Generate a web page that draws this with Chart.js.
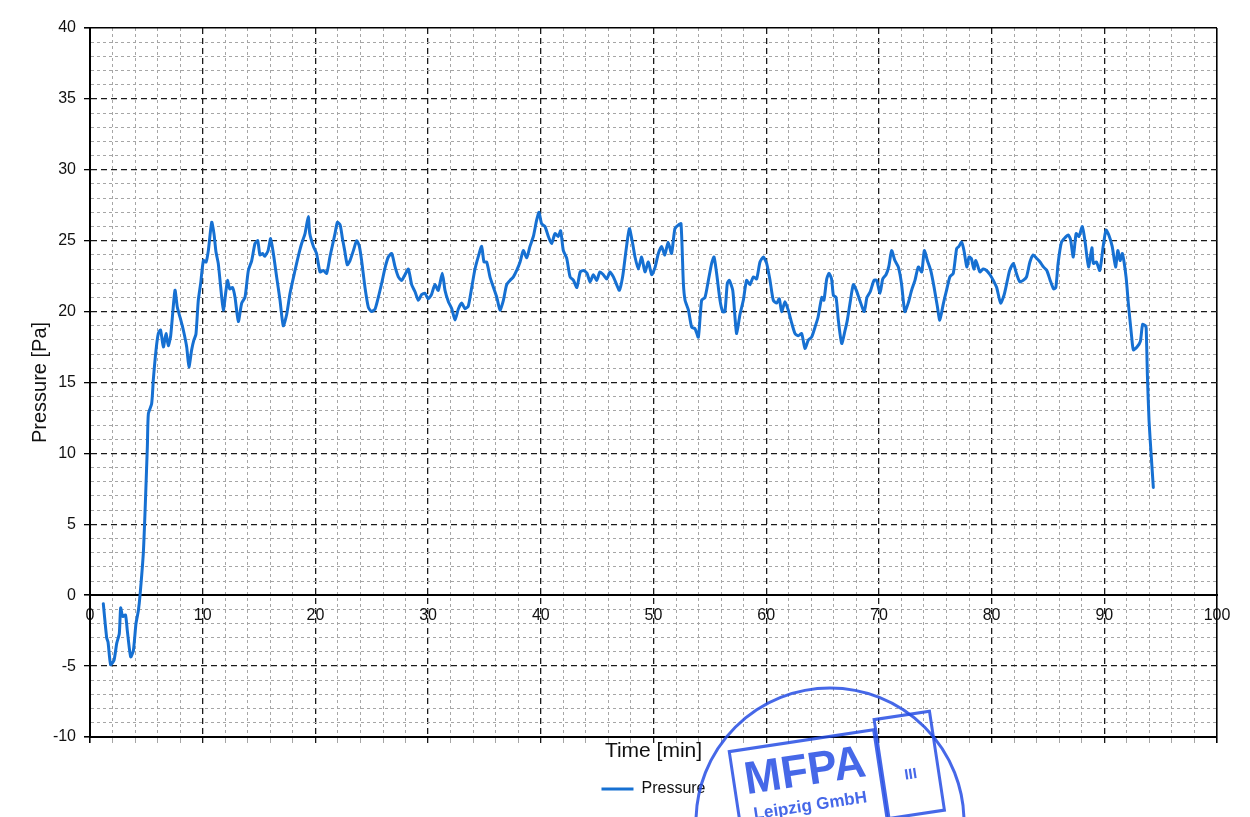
<!DOCTYPE html>
<html>
<head>
<meta charset="utf-8">
<title>Pressure [Pa]</title>
<script src="https://cdn.jsdelivr.net/npm/chart.js@4.4.1/dist/chart.umd.min.js"></script>
<style>
	html, body { margin: 0; padding: 0; background: #fff; }
	#wrap { width: 1250px; height: 817px; position: relative; }
</style>
</head>
<body>
<div id="wrap"><canvas id="chart" width="1250" height="817"></canvas></div>
<script>
	/* Data. */

	var TIME = [
		1.18, 1.48, 1.6, 1.83, 2.13, 2.37, 2.6, 2.72, 2.9, 3.15, 3.31, 3.61, 3.85, 4.08, 4.29, 4.44,
		4.73, 4.88, 5.09, 5.18, 5.47, 5.62, 5.86, 6.06, 6.26, 6.51, 6.74, 6.95, 7.16, 7.54, 7.75, 7.99,
		8.28, 8.58, 8.78, 9.02, 9.22, 9.4, 9.61, 9.82, 10.06, 10.3, 10.5, 10.8, 11.0, 11.18, 11.38, 11.6,
		11.83, 12.07, 12.2, 12.4, 12.65, 12.87, 13.16, 13.46, 13.75, 14.05, 14.35, 14.64, 14.88, 15.08,
		15.32, 15.5, 15.8, 16.03, 16.27, 16.56, 16.86, 17.15, 17.45, 17.75, 18.19, 18.48, 18.78, 19.08,
		19.37, 19.5, 19.82, 20.1, 20.41, 20.7, 21.0, 21.3, 21.74, 21.95, 22.2, 22.4, 22.6, 22.83, 23.07,
		23.37, 23.66, 23.9, 24.1, 24.4, 24.7, 24.99, 25.3, 25.58, 25.88, 26.2, 26.47, 26.77, 27.07, 27.36,
		27.65, 27.95, 28.25, 28.54, 28.84, 29.13, 29.43, 29.72, 30.0, 30.3, 30.6, 30.9, 31.26, 31.5, 31.8,
		32.1, 32.39, 32.69, 32.98, 33.28, 33.57, 33.87, 34.16, 34.46, 34.75, 34.96, 35.2, 35.49, 35.8,
		36.1, 36.38, 36.68, 36.97, 37.27, 37.57, 37.86, 38.16, 38.45, 38.75, 39.04, 39.34, 39.63, 39.84,
		40.07, 40.37, 40.67, 40.96, 41.26, 41.55, 41.76, 42.0, 42.3, 42.6, 42.9, 43.2, 43.5, 43.8, 44.1,
		44.37, 44.66, 44.96, 45.25, 45.55, 45.85, 46.14, 46.44, 46.73, 46.97, 47.26, 47.56, 47.86, 48.15,
		48.36, 48.65, 48.95, 49.24, 49.54, 49.84, 50.13, 50.43, 50.72, 51.0, 51.3, 51.6, 51.9, 52.2, 52.44,
		52.65, 52.8, 53.1, 53.39, 53.68, 53.98, 54.27, 54.57, 54.87, 55.16, 55.37, 55.6, 55.9, 56.14, 56.34,
		56.55, 56.73, 57.03, 57.23, 57.38, 57.67, 57.97, 58.26, 58.56, 58.86, 59.15, 59.45, 59.75, 60.04,
		60.34, 60.63, 60.93, 61.16, 61.37, 61.67, 61.96, 62.26, 62.56, 62.85, 63.15, 63.44, 63.74, 64.03,
		64.33, 64.6, 64.93, 65.12, 65.37, 65.57, 65.8, 65.96, 66.2, 66.4, 66.7, 66.99, 67.2, 67.44, 67.73,
		68.0, 68.3, 68.7, 68.94, 69.23, 69.56, 69.8, 70.1, 70.34, 70.63, 70.87, 71.13, 71.42, 71.72, 72.0,
		72.3, 72.6, 72.9, 73.2, 73.5, 73.8, 74.03, 74.3, 74.6, 74.9, 75.2, 75.4, 75.73, 76.0, 76.3, 76.6,
		76.9, 77.1, 77.34, 77.55, 77.8, 78.0, 78.2, 78.43, 78.6, 78.96, 79.25, 79.55, 79.86, 80.15, 80.45,
		80.8, 81.1, 81.4, 81.6, 81.93, 82.2, 82.5, 82.8, 83.1, 83.4, 83.7, 84.0, 84.3, 84.6, 84.9, 85.2,
		85.5, 85.7, 85.9, 86.2, 86.5, 86.8, 87.0, 87.25, 87.5, 87.75, 88.05, 88.3, 88.6, 88.9, 89.03, 89.3,
		89.6, 89.9, 90.15, 90.4, 90.7, 91.0, 91.2, 91.4, 91.6, 91.93, 92.13, 92.43, 92.58, 92.9, 93.2,
		93.4, 93.65, 93.72, 93.82, 93.97, 94.15, 94.35
	];

	var PRESSURE = [
		-0.6, -3.0, -3.3, -4.9, -4.6, -3.4, -2.7, -0.9, -1.5, -1.4, -2.5, -4.35, -3.9, -2.0, -1.1, 0,
		2.95, 5.8, 10.5, 12.8, 13.5, 15.2, 17.3, 18.45, 18.7, 17.5, 18.45, 17.6, 18.3, 21.5, 20.3, 19.6,
		18.7, 17.5, 16.1, 17.3, 18.0, 18.4, 20.8, 22.0, 23.6, 23.5, 24.3, 26.3, 25.5, 24.2, 23.4, 21.7,
		20.1, 21.5, 22.2, 21.6, 21.7, 21.0, 19.3, 20.6, 21.0, 22.9, 23.6, 24.8, 25.0, 24.0,
		24.1, 23.9, 24.3, 25.15, 24.1, 22.45, 20.8, 19.0, 19.8, 21.3, 22.9, 23.9, 24.8, 25.5,
		26.7, 25.5, 24.6, 24.1, 22.8, 22.9, 22.7, 23.9, 25.5, 26.3, 26.1, 25.15, 24.3, 23.3, 23.6,
		24.3, 25.0, 24.6, 23.6, 21.7, 20.3, 20.0, 20.2, 21.0, 22.0, 23.15, 23.85, 24.1, 23.15, 22.45,
		22.2, 22.6, 23.0, 21.9, 21.4, 20.8, 21.2, 21.3, 20.9, 21.2, 21.9, 21.5, 22.7, 21.5, 20.7,
		20.2, 19.4, 20.2, 20.6, 20.2, 20.4, 21.7, 23.0, 23.9, 24.6, 23.5, 23.5, 22.45, 21.7,
		21.0, 20.1, 20.8, 21.9, 22.2, 22.45, 22.9, 23.5, 24.3, 23.8, 24.6, 25.3, 26.45, 27.0,
		26.2, 26.0, 25.3, 24.8, 25.5, 25.3, 25.7, 24.3, 23.75, 22.45, 22.2, 21.7, 22.8, 22.9, 22.7,
		22.1, 22.6, 22.2, 22.8, 22.6, 22.3, 22.8, 22.45, 21.9, 21.5, 22.45, 24.3, 25.85, 24.8,
		23.85, 23.0, 23.85, 22.8, 23.5, 22.6, 23.1, 24.1, 24.6, 24.0, 24.9, 24.1, 25.85, 26.1, 26.2,
		22.0, 20.8, 20.1, 18.9, 18.8, 18.2, 20.8, 21.0, 22.2, 23.4, 23.85, 22.7, 20.8, 20.0, 20.0,
		22.0, 22.2, 21.5, 19.6, 18.45, 19.8, 20.8, 22.2, 21.9, 22.45, 22.3, 23.5, 23.85, 23.4,
		22.2, 20.8, 20.6, 20.9, 20.0, 20.7, 20.1, 19.2, 18.45, 18.3, 18.45, 17.4, 18.0, 18.2,
		18.9, 19.6, 21.0, 20.8, 22.3, 22.7, 22.3, 21.15, 21.0, 19.4, 17.75, 18.65, 19.4, 20.6, 21.9,
		21.5, 20.8, 20.0, 21.0, 21.4, 22.2, 22.2, 21.3, 22.3, 22.6, 23.15, 24.3, 23.6, 23.15, 22.0,
		20.0, 20.6, 21.5, 22.2, 23.15, 22.8, 24.3, 23.6, 22.9, 21.7, 20.3, 19.4, 20.6, 21.5, 22.45, 22.7,
		24.45, 24.6, 24.9, 24.3, 23.15, 23.85, 23.75, 23.0, 23.6, 22.8, 23.0, 22.9, 22.6, 22.2, 21.7,
		20.6, 21.15, 22.2, 22.9, 23.4, 22.7, 22.1, 22.2, 22.45, 23.5, 24.0, 23.75, 23.5, 23.15, 22.9, 22.2,
		21.6, 21.7, 23.4, 24.9, 25.2, 25.4, 25.1, 23.85, 25.5, 25.3, 26.0, 24.9, 23.15, 24.5, 23.4, 23.5,
		22.9, 24.6, 25.75, 25.4, 24.6, 23.15, 24.3, 23.6, 24.1, 22.45, 20.6, 18.2, 17.3, 17.5, 17.9,
		19.1, 19.0, 18.8, 15.6, 12.3, 10.0, 7.6
	];

	var X_LABELS = [0, 10, 20, 30, 40, 50, 60, 70, 80, 90, 100];
	var Y_LABELS = [-10, -5, 0, 5, 10, 15, 20, 25, 30, 35, 40];

	var LINE_BLUE = '#1670d2';
	var STAMP_BLUE = 'rgba(38, 78, 228, 0.85)';
	var FONT_FAMILY = '"Liberation Sans", Arial, Helvetica, sans-serif';

	/*
	 * Grid helpers: frame lines solid, every 10 min / 5 Pa black dashes,
	 * everything else light grey dashes.
	 */
	function lineKind(axis, c) {
		if (!c || !c.tick) return 'none';
		var v = Math.round(c.tick.value * 1000) / 1000;
		if (axis === 'x') {
			if (v === 0 || v === 100) return 'frame';
			return v % 10 === 0 ? 'major' : 'minor';
		}
		if (v === -10 || v === 40 || v === 0) return 'frame';
		return v % 5 === 0 ? 'major' : 'minor';
	}

	function gridColor(axis) {
		return function (c) {
			var k = lineKind(axis, c);
			if (k === 'frame') return '#000';
			if (k === 'major') return '#1a1a1a';
			return '#a6a6a6';
		};
	}

	function gridWidth(axis) {
		return function (c) {
			var k = lineKind(axis, c);
			if (k === 'frame') return 1.6;
			if (k === 'major') return 1.3;
			return 1;
		};
	}

	function gridDash(axis) {
		return function (c) {
			var k = lineKind(axis, c);
			if (k === 'major') return [6, 4];
			if (k === 'minor') return [3, 3];
			return [];
		};
	}

	var data = TIME.map(function (t, i) {
		return { x: t, y: PRESSURE[i] };
	});

	// MFPA stamp laid over the bottom of the chart.
	var stampPlugin = {
		id: 'stamp',
		afterDraw: function (chart) {
			var ctx = chart.ctx;
			ctx.save();
			ctx.strokeStyle = STAMP_BLUE;
			ctx.fillStyle = STAMP_BLUE;

			ctx.lineWidth = 3;
			ctx.beginPath();
			ctx.arc(830, 822, 134, Math.PI, 2 * Math.PI);
			ctx.stroke();

			ctx.translate(808, 764);
			ctx.rotate(-0.15);
			ctx.lineWidth = 3;
			ctx.strokeRect(-76, -24, 146, 90);
			ctx.strokeRect(72, -34, 56, 100);

			ctx.textAlign = 'center';
			ctx.textBaseline = 'middle';
			ctx.font = 'bold 46px ' + FONT_FAMILY;
			ctx.fillText('MFPA', -4, 8, 122);
			ctx.font = 'bold 17px ' + FONT_FAMILY;
			ctx.fillText('Leipzig GmbH', -4, 42, 120);
			ctx.font = 'bold 15px ' + FONT_FAMILY;
			ctx.fillText('III', 100, 26);
			ctx.restore();
		}
	};

	new Chart(document.getElementById('chart'), {
		type: 'line',
		data: {
			datasets: [{
				label: 'Pressure',
				data: data,
				borderColor: LINE_BLUE,
				backgroundColor: LINE_BLUE,
				borderWidth: 3,
				borderJoinStyle: 'round',
				borderCapStyle: 'round',
				pointRadius: 0,
				pointStyle: 'line',
				tension: 0.2,
				fill: false,
				xAxisID: 'x',
				yAxisID: 'y'
			}]
		},
		options: {
			responsive: false,
			animation: false,
			layout: {
				padding: { left: 28, right: 33, top: 28, bottom: 10 }
			},
			scales: {
				x: {
					type: 'linear',
					position: 'bottom',
					min: 0,
					max: 100,
					ticks: { display: false, stepSize: 2, autoSkip: false },
					grid: {
						color: gridColor('x'),
						lineWidth: gridWidth('x'),
						tickColor: gridColor('x'),
						tickLength: 6,
						drawTicks: true
					},
					border: { display: true, color: '#000', width: 2, dash: gridDash('x') },
					title: {
						display: true,
						text: 'Time [min]',
						color: '#111',
						font: { family: FONT_FAMILY, size: 21 },
						padding: { top: 2, bottom: 7 }
					},
					afterFit: function (scale) { scale.height = 34; }
				},
				xLabels: {
					axis: 'x',
					type: 'linear',
					position: { y: 0 },
					min: 0,
					max: 100,
					ticks: {
						stepSize: 10,
						autoSkip: false,
						maxRotation: 0,
						padding: 11,
						color: '#111',
						font: { family: FONT_FAMILY, size: 16 },
						callback: function (v) {
							return X_LABELS.indexOf(v) >= 0 ? v : '';
						}
					},
					grid: { display: false, drawTicks: false },
					border: { display: true, color: '#000', width: 2 }
				},
				y: {
					type: 'linear',
					min: -10,
					max: 40,
					ticks: {
						stepSize: 1,
						autoSkip: false,
						padding: 8,
						color: '#111',
						font: { family: FONT_FAMILY, size: 16 },
						callback: function (v) {
							return Y_LABELS.indexOf(v) >= 0 ? v : '';
						}
					},
					grid: {
						color: gridColor('y'),
						lineWidth: gridWidth('y'),
						tickColor: function (c) {
							return lineKind('y', c) === 'minor' ? 'rgba(0,0,0,0)' : '#000';
						},
						tickLength: 6,
						drawTicks: true
					},
					border: { display: true, color: '#000', width: 2, dash: gridDash('y') },
					title: {
						display: true,
						text: 'Pressure [Pa]',
						color: '#111',
						font: { family: FONT_FAMILY, size: 20 },
						padding: { top: 0, bottom: 3 }
					},
					afterFit: function (scale) { scale.width = 62; }
				}
			},
			plugins: {
				legend: {
					position: 'bottom',
					fullSize: false,
					labels: {
						usePointStyle: true,
						pointStyle: 'line',
						pointStyleWidth: 32,
						color: '#111',
						font: { family: FONT_FAMILY, size: 16 },
						padding: 10
					}
				},
				tooltip: { enabled: false }
			}
		},
		plugins: [stampPlugin]
	});
</script>
</body>
</html>
